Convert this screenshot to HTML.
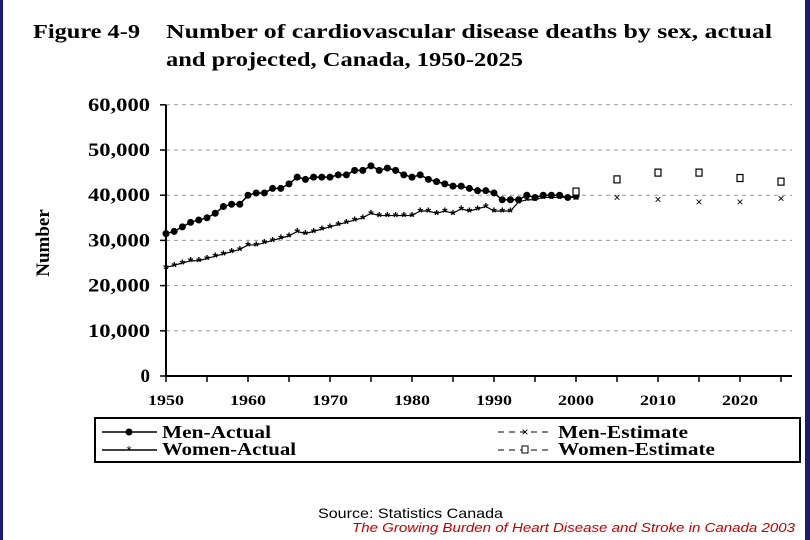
<!DOCTYPE html>
<html><head><meta charset="utf-8"><style>
body{margin:0;background:#fff;}
svg{display:block;}
.t{font-family:"Liberation Serif",serif;font-weight:bold;}
</style></head><body>
<svg id="c" width="810" height="540" viewBox="0 0 810 540" xmlns="http://www.w3.org/2000/svg">
<rect x="0" y="0" width="810" height="540" fill="#fff"/>
<rect x="0" y="0" width="3" height="540" fill="#1a1a7a"/>
<rect x="805" y="0" width="5" height="540" fill="#1a1a7a"/>
<text class="t" x="33" y="38" font-size="20" textLength="107" lengthAdjust="spacingAndGlyphs">Figure 4-9</text>
<text class="t" x="166" y="38" font-size="20" textLength="606" lengthAdjust="spacingAndGlyphs">Number of cardiovascular disease deaths by sex, actual</text>
<text class="t" x="166" y="66" font-size="20" textLength="357" lengthAdjust="spacingAndGlyphs">and projected, Canada, 1950-2025</text>
<text class="t" x="49" y="243" font-size="19" transform="rotate(-90 49 243)" text-anchor="middle">Number</text>
<g id="grid"></g><g id="axes"></g><g id="marks"></g>
<rect x="95" y="418" width="705" height="44" fill="none" stroke="#000" stroke-width="2"/>
<g>
<line x1="102" y1="432" x2="157" y2="432" stroke="#000" stroke-width="1.5"/><circle cx="129" cy="432" r="3.5" fill="#000"/>
<text class="t" x="162" y="438" font-size="18" textLength="109" lengthAdjust="spacingAndGlyphs">Men-Actual</text></g>
<g>
<line x1="102" y1="450" x2="157" y2="450" stroke="#000" stroke-width="1.5"/><text x="129" y="455" font-size="13" text-anchor="middle" font-family="Liberation Sans,sans-serif">*</text>
<text class="t" x="162" y="455" font-size="18" textLength="134" lengthAdjust="spacingAndGlyphs">Women-Actual</text></g>
<g>
<line x1="498" y1="432" x2="553" y2="432" stroke="#000" stroke-dasharray="6,5"/><text x="525" y="436" font-size="12" text-anchor="middle" font-family="Liberation Sans,sans-serif">×</text>
<text class="t" x="558" y="438" font-size="18" textLength="130" lengthAdjust="spacingAndGlyphs">Men-Estimate</text></g>
<g>
<line x1="498" y1="450" x2="553" y2="450" stroke="#000" stroke-dasharray="6,5"/><rect x="522" y="446" width="6" height="7" fill="#fff" stroke="#000"/>
<text class="t" x="558" y="455" font-size="18" textLength="157" lengthAdjust="spacingAndGlyphs">Women-Estimate</text></g>
<text x="318" y="518" font-size="14" textLength="185" lengthAdjust="spacingAndGlyphs" font-family="Liberation Sans,sans-serif">Source:  Statistics Canada</text>
<text x="352" y="532" font-size="13" textLength="443" lengthAdjust="spacingAndGlyphs" font-style="italic" fill="#c00000" font-family="Liberation Sans,sans-serif">The Growing Burden of Heart Disease and Stroke in Canada 2003</text>
</svg>
<script>
const years=[];for(let y=1950;y<=2000;y++)years.push(y);
const menActual=[31.5,32,33,34,34.5,35,36,37.5,38,38,40,40.5,40.5,41.5,41.5,42.5,44,43.5,44,44,44,44.5,44.5,45.5,45.5,46.5,45.5,46,45.5,44.5,44,44.5,43.5,43,42.5,42,42,41.5,41,41,40.5,39,39,39,40,39.5,40,40,40,39.5,39.8];
const womenActual=[24,24.5,25,25.5,25.5,26,26.5,27,27.5,28,29,29,29.5,30,30.5,31,32,31.5,32,32.5,33,33.5,34,34.5,35,36,35.5,35.5,35.5,35.5,35.5,36.5,36.5,36,36.5,36,37,36.5,37,37.5,36.5,36.5,36.5,38.5,39,39,39.5,39.5,39.5,39.5,39.5];
const estYears=[2000,2005,2010,2015,2020,2025];
const menEstimate=[39.5,39.5,39,38.5,38.5,39.3];
const womenEstimate=[40.8,43.5,45,45,43.8,43];
const yTicks=[0,10,20,30,40,50,60];
const yTickLabels=["0","10,000","20,000","30,000","40,000","50,000","60,000"];
const xTicks=[1950,1960,1970,1980,1990,2000,2010,2020];
const NS="http://www.w3.org/2000/svg";
const X=y=>166+(y-1950)*8.2, Y=v=>376-v*4.52;
function mk(t,a,p){const e=document.createElementNS(NS,t);for(const k in a)e.setAttribute(k,a[k]);p.appendChild(e);return e;}
const grid=document.getElementById('grid'),axes=document.getElementById('axes'),marks=document.getElementById('marks');
yTicks.forEach((v,i)=>{
 if(v>0){const g=mk('line',{x1:166,x2:792,y1:Y(v),y2:Y(v),stroke:'#999','stroke-dasharray':'4,4'},grid);
 
 }
 mk('line',{x1:160,x2:166,y1:Y(v),y2:Y(v),stroke:'#000','stroke-width':1.5},axes);
 const a={x:150,y:Y(v)+6,'font-size':19,'text-anchor':'end','class':'t'};
 if(v>0){a.textLength=62;a.lengthAdjust='spacingAndGlyphs';}
 const t=mk('text',a,axes);t.textContent=yTickLabels[i];
 
 
});
const ya=mk('line',{x1:166,x2:166,y1:Y(60),y2:Y(0),stroke:'#000','stroke-width':2},axes);


const xa=mk('line',{x1:166,x2:792,y1:Y(0),y2:Y(0),stroke:'#000','stroke-width':2},axes);


for(let y=1950;y<=2025;y+=5)mk('line',{x1:X(y),x2:X(y),y1:Y(0),y2:Y(0)+6,stroke:'#000','stroke-width':1.5},axes);
xTicks.forEach(y=>{const t=mk('text',{x:X(y),y:405,'font-size':15,'text-anchor':'middle','class':'t',textLength:36,lengthAdjust:'spacingAndGlyphs'},axes);t.textContent=y;
 
 });
const mp=mk('polyline',{points:years.map((y,i)=>X(y)+','+Y(menActual[i])).join(' '),fill:'none',stroke:'#000','stroke-width':1.5},marks);


years.forEach((y,i)=>{const c=mk('circle',{cx:X(y),cy:Y(menActual[i]),r:3.5,fill:'#000'},marks);
 
 });
const wp=mk('polyline',{points:years.map((y,i)=>X(y)+','+Y(womenActual[i])).join(' '),fill:'none',stroke:'#000','stroke-width':1.2},marks);


years.forEach((y,i)=>{const t=mk('text',{x:X(y),y:Y(womenActual[i])+6,'font-size':14,'text-anchor':'middle','font-family':'Liberation Sans,sans-serif','font-weight':'bold'},marks);t.textContent='*';
 
 });
estYears.forEach((y,i)=>{
 const t=mk('text',{x:X(y),y:Y(menEstimate[i])+4,'font-size':12,'text-anchor':'middle','font-family':'Liberation Sans,sans-serif'},marks);t.textContent='×';
 
 
 const r=mk('rect',{x:X(y)-3,y:Y(womenEstimate[i])-3.5,width:6,height:7,fill:'#fff',stroke:'#000','stroke-width':1.2},marks);
 
 
});
</script>
</body></html>
